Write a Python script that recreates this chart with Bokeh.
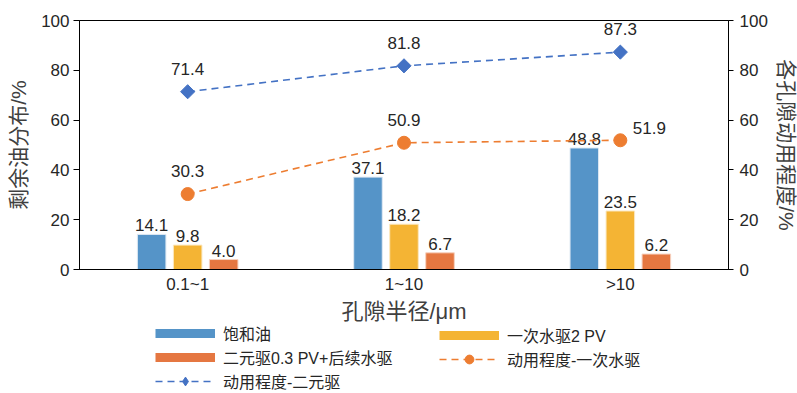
import math
from bokeh.plotting import figure
from bokeh.layouts import column
from bokeh.models import (ColumnDataSource, Range1d, LinearAxis, Legend, LegendItem,
                          FactorRange)
from bokeh.transform import dodge
from bokeh.core.properties import value
from bokeh.embed import file_html
from bokeh.resources import INLINE

# ---- data ----
categories = ["0.1~1", "1~10", ">10"]
saturated_oil = [14.1, 37.1, 48.8]          # 饱和油
water_flood = [9.8, 18.2, 23.5]             # 一次水驱2 PV
binary_flood = [4.0, 6.7, 6.2]              # 二元驱0.3 PV+后续水驱
degree_water = [30.3, 50.9, 51.9]           # 动用程度-一次水驱
degree_binary = [71.4, 81.8, 87.3]          # 动用程度-二元驱
y_ticks = [0, 20, 40, 60, 80, 100]

NUM_FONT = "'Liberation Sans', 'Noto Sans CJK SC', sans-serif"
CJK_FONT = "'Liberation Sans', 'Noto Sans CJK SC', sans-serif"
TXT = "#262626"

C_BLUE = "#5594C8"
C_YEL = "#F4B434"
C_ORG = "#E57741"
L_BLUE = "#4472C4"
L_ORG = "#ED7D31"

NAN = float("nan")

src = ColumnDataSource(dict(
    cat=categories,
    sat=saturated_oil, wat=water_flood, bin=binary_flood,
    sat_t=[f"{v:.1f}" for v in saturated_oil],
    wat_t=[f"{v:.1f}" for v in water_flood],
    bin_t=[f"{v:.1f}" for v in binary_flood],
    dw=degree_water, db=degree_binary,
    dw_t=[f"{v:.1f}" for v in degree_water],
    db_t=[f"{v:.1f}" for v in degree_binary],
    dw_xoff=[0, 0, 29],
    dw_yoff=[-23, -23, -12],
))

p = figure(frame_width=649, frame_height=249, x_range=FactorRange(*categories),
           y_range=Range1d(0, 100),
           output_backend="svg", toolbar_location=None,
           min_border_left=79, min_border_right=0, min_border_top=20, min_border_bottom=55)
p.extra_y_ranges = {"right": Range1d(0, 100)}
p.xgrid.visible = False
p.ygrid.visible = False
p.outline_line_color = "black"
p.outline_line_width = 1
p.background_fill_color = "white"
p.border_fill_color = "white"

off = 0.1665
bw = 0.132
p.vbar(x=dodge("cat", -off, range=p.x_range), top="sat", width=bw, source=src,
       fill_color=C_BLUE, line_color="#dfe9f3", line_width=1)
p.vbar(x=dodge("cat", 0, range=p.x_range), top="wat", width=bw, source=src,
       fill_color=C_YEL, line_color="#fbe8c0", line_width=1)
p.vbar(x=dodge("cat", off, range=p.x_range), top="bin", width=bw, source=src,
       fill_color=C_ORG, line_color="#f6d2c0", line_width=1)

for col, d in (("sat_t", -off), ("wat_t", 0), ("bin_t", off)):
    top = col[:3]
    p.text(x=dodge("cat", d, range=p.x_range), y=top, text=col, source=src,
           text_align="center", text_baseline="bottom", y_offset=-3,
           text_font=value(NUM_FONT), text_font_size="17px", text_color=TXT)

# lines on right axis
p.line(x="cat", y="dw", source=src, y_range_name="right",
       line_color=L_ORG, line_width=1.6, line_dash="7 5")
p.scatter(x="cat", y="dw", source=src, y_range_name="right", marker="circle",
          size=13, fill_color=L_ORG, line_color=L_ORG)
p.line(x="cat", y="db", source=src, y_range_name="right",
       line_color=L_BLUE, line_width=1.6, line_dash="7 5")
p.scatter(x="cat", y="db", source=src, y_range_name="right", marker="square",
          angle=math.pi / 4, size=10, fill_color=L_BLUE, line_color=L_BLUE)

p.text(x="cat", y="dw", text="dw_t", source=src, y_range_name="right",
       x_offset="dw_xoff", y_offset="dw_yoff", text_align="center", text_baseline="middle",
       text_font=value(NUM_FONT), text_font_size="17px", text_color=TXT)
p.text(x="cat", y="db", text="db_t", source=src, y_range_name="right",
       y_offset=-23, text_align="center", text_baseline="middle",
       text_font=value(NUM_FONT), text_font_size="17px", text_color=TXT)

# axes
ax = p.xaxis[0]
ax.axis_label = "孔隙半径/μm"
ax.major_tick_line_color = None
ax.minor_tick_line_color = None
ax.major_tick_out = 0
ax.major_tick_in = 0
ax.major_label_standoff = 5
ax.axis_label_standoff = 2
ax.major_label_text_font = NUM_FONT
ax.major_label_text_font_size = "17px"
ax.major_label_text_color = TXT
ax.axis_label_text_font = CJK_FONT
ax.axis_label_text_font_size = "22px"
ax.axis_label_text_font_style = "normal"
ax.axis_label_text_color = "#404040"
ax.axis_line_color = "black"

ly = p.yaxis[0]
ly.axis_label = "剩余油分布/%"
ly.ticker = y_ticks
ly.minor_tick_line_color = None
ly.major_tick_out = 6
ly.major_tick_in = 0
ly.major_label_standoff = 4
ly.axis_label_standoff = 8
ly.major_label_text_font = NUM_FONT
ly.major_label_text_font_size = "17px"
ly.major_label_text_color = TXT
ly.axis_label_text_font = CJK_FONT
ly.axis_label_text_font_size = "21px"
ly.axis_label_text_font_style = "normal"
ly.axis_label_text_color = "#404040"

ry = LinearAxis(y_range_name="right", axis_label="各孔隙动用程度/%", ticker=y_ticks)
ry.minor_tick_line_color = None
ry.major_tick_out = 5
ry.major_tick_in = 0
ry.major_label_standoff = 6
ry.axis_label_standoff = 4
ry.major_label_text_font = NUM_FONT
ry.major_label_text_font_size = "17px"
ry.major_label_text_color = TXT
ry.axis_label_text_font = CJK_FONT
ry.axis_label_text_font_size = "21px"
ry.axis_label_text_font_style = "normal"
ry.axis_label_text_color = "#404040"
p.add_layout(ry, "right")

# ---- legend strip (separate figure; proxy renderers with no visible data) ----
LG_H = 67
lg = figure(width=797, height=LG_H, x_range=Range1d(0, 1), y_range=Range1d(0, 1),
            output_backend="svg", toolbar_location=None, min_border=0)
lg.axis.visible = False
lg.grid.visible = False
lg.outline_line_color = None
lg.background_fill_color = "white"
lg.border_fill_color = "white"

lsrc = ColumnDataSource(dict(x=[NAN], y=[NAN]))
px_sat = lg.line(x="x", y="y", source=lsrc, line_color=C_BLUE, line_width=9)
px_wat = lg.line(x="x", y="y", source=lsrc, line_color=C_YEL, line_width=9)
px_bin = lg.line(x="x", y="y", source=lsrc, line_color=C_ORG, line_width=9)
px_ol = lg.line(x="x", y="y", source=lsrc, line_color=L_ORG, line_width=1.6, line_dash="7 5")
px_oc = lg.scatter(x="x", y="y", source=lsrc, marker="circle", fill_color=L_ORG, line_color=L_ORG)
px_bl = lg.line(x="x", y="y", source=lsrc, line_color=L_BLUE, line_width=1.6, line_dash="7 5")
px_bd = lg.scatter(x="x", y="y", source=lsrc, marker="diamond", fill_color=L_BLUE, line_color=L_BLUE)

ROW = 22


def make_legend(items, loc):
    leg = Legend(items=items, orientation="vertical", location=loc)
    leg.label_text_font = CJK_FONT
    leg.label_text_font_size = "16px"
    leg.label_text_color = TXT
    leg.glyph_width = 60
    leg.glyph_height = ROW
    leg.label_height = ROW
    leg.label_standoff = 8
    leg.spacing = 0
    leg.padding = 0
    leg.margin = 0
    leg.border_line_color = None
    leg.background_fill_alpha = 0
    return leg


leg1 = make_legend([
    LegendItem(label="饱和油", renderers=[px_sat]),
    LegendItem(label="二元驱0.3 PV+后续水驱", renderers=[px_bin]),
    LegendItem(label="动用程度-二元驱", renderers=[px_bl, px_bd]),
], (76, 0))
leg2 = make_legend([
    LegendItem(label="一次水驱2 PV", renderers=[px_wat]),
    LegendItem(label="动用程度-一次水驱", renderers=[px_ol, px_oc]),
], (360, ROW))
lg.add_layout(leg1, "center")
lg.add_layout(leg2, "center")

layout = column(p, lg, spacing=0)
open("out.html", "w").write(file_html(layout, INLINE))
